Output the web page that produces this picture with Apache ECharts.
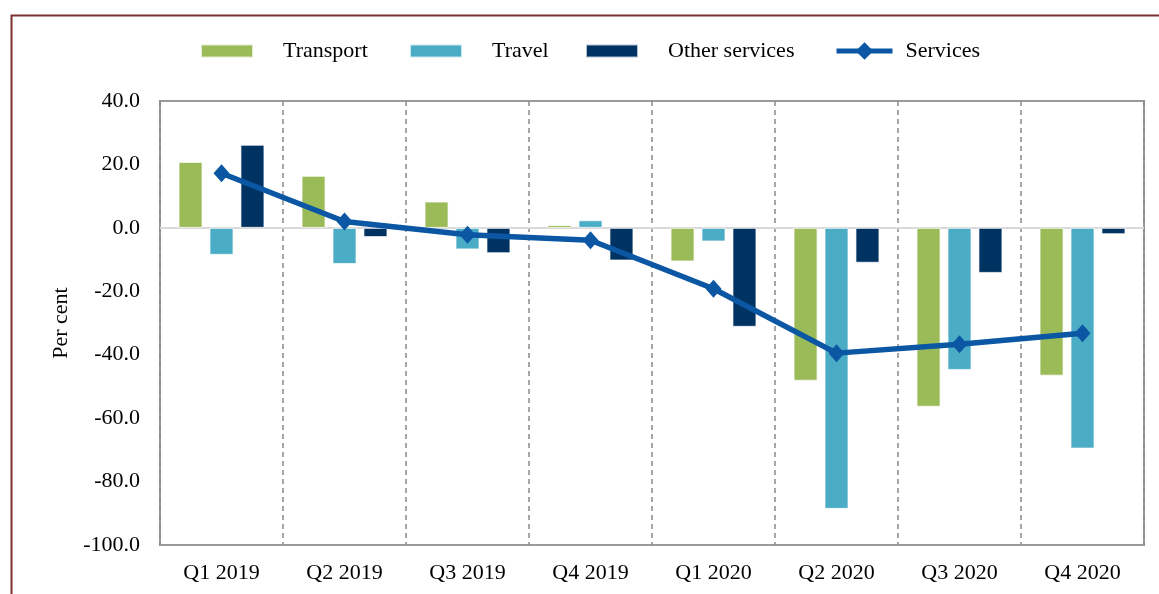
<!DOCTYPE html>
<html>
<head>
<meta charset="utf-8">
<script src="https://cdn.jsdelivr.net/npm/echarts@6/dist/echarts.min.js"></script>
<style>
html,body{margin:0;padding:0;background:#fff;}
#chart{width:1159px;height:594px;}
</style>
</head>
<body>
<div id="chart"></div>
<script>
const categories = ['Q1 2019','Q2 2019','Q3 2019','Q4 2019','Q1 2020','Q2 2020','Q3 2020','Q4 2020'];
const transport = [20.8, 16.4, 8.3, 0.9, -10.6, -48.2, -56.4, -46.6];
const travel = [-8.5, -11.4, -6.8, 2.4, -4.3, -88.6, -44.8, -69.6];
const otherServices = [26.2, -2.9, -8.0, -10.3, -31.2, -11.0, -14.2, -2.0];
const services = [17.2, 2.0, -2.2, -3.9, -19.2, -39.5, -36.7, -33.2];

const FONT = 'Liberation Serif';
const LINE_COLOR = '#0b57a4';
const chart = echarts.init(document.getElementById('chart'), null, {renderer: 'canvas'});

function legendAt(name, left, w, h, pad) {
  return {
    data: [name], left: left, top: 40, padding: 0, itemWidth: w, itemHeight: h,
    icon: 'rect',
    textStyle: {fontFamily: FONT, fontSize: 22, color: '#000', padding: [0, 0, 0, pad]},
    selectedMode: false
  };
}

const barStyle = (c) => ({color: c, borderColor: 'rgba(255,255,255,0.7)', borderWidth: 1});

chart.setOption({
  animation: false,
  backgroundColor: '#fff',
  graphic: [{
    type: 'rect', left: 9, top: 13, silent: true,
    shape: {width: 1200, height: 700},
    style: {fill: 'none', stroke: '#7b2f2f', lineWidth: 2}
  }],
  legend: [
    legendAt('Transport', 200, 52, 13, 25),
    legendAt('Travel', 409, 52, 13, 25),
    legendAt('Other services', 585, 52, 13, 25),
    {
      data: ['Services'],
      left: 834, top: 40, padding: 0, itemWidth: 56, itemHeight: 22,
      lineStyle: {width: 5, color: LINE_COLOR},
      itemStyle: {color: LINE_COLOR},
      textStyle: {fontFamily: FONT, fontSize: 22, color: '#000', padding: [0, 0, 0, 8]},
      selectedMode: false
    }
  ],
  grid: {left: 160, right: 15, top: 101, bottom: 49, show: true, borderColor: '#9a9a9a', borderWidth: 2, backgroundColor: 'transparent'},
  xAxis: {
    type: 'category', data: categories,
    axisLine: {show: false, onZero: false},
    axisTick: {show: false},
    axisLabel: {fontFamily: FONT, fontSize: 22, color: '#000', margin: 17},
    splitLine: {show: true, lineStyle: {color: '#8a8a8a', type: [5, 4], width: 1.5}}
  },
  yAxis: {
    type: 'value', min: -100, max: 40, interval: 20,
    name: 'Per cent', nameLocation: 'middle', nameGap: 88,
    nameTextStyle: {fontFamily: FONT, fontSize: 22, color: '#000'},
    axisLine: {show: false},
    axisTick: {show: false},
    splitLine: {show: false},
    axisLabel: {fontFamily: FONT, fontSize: 22, color: '#000', margin: 20, formatter: v => v.toFixed(1)}
  },
  series: [
    {name: 'Transport', type: 'bar', data: transport, barWidth: 24, barGap: '29%', itemStyle: barStyle('#9bbb59'),
     markLine: {silent: true, symbol: 'none', label: {show: false}, lineStyle: {color: '#d9d9d9', width: 2, type: 'solid'}, data: [{yAxis: 0}], z: 1}},
    {name: 'Travel', type: 'bar', data: travel, barWidth: 24, barGap: '29%', itemStyle: barStyle('#4bacc6')},
    {name: 'Other services', type: 'bar', data: otherServices, barWidth: 24, barGap: '29%', itemStyle: barStyle('#003361')},
    {name: 'Services', type: 'line', data: services, z: 5,
     symbol: 'diamond', symbolSize: [16, 18],
     lineStyle: {color: LINE_COLOR, width: 5.5},
     itemStyle: {color: LINE_COLOR}}
  ]
});
</script>
</body>
</html>
